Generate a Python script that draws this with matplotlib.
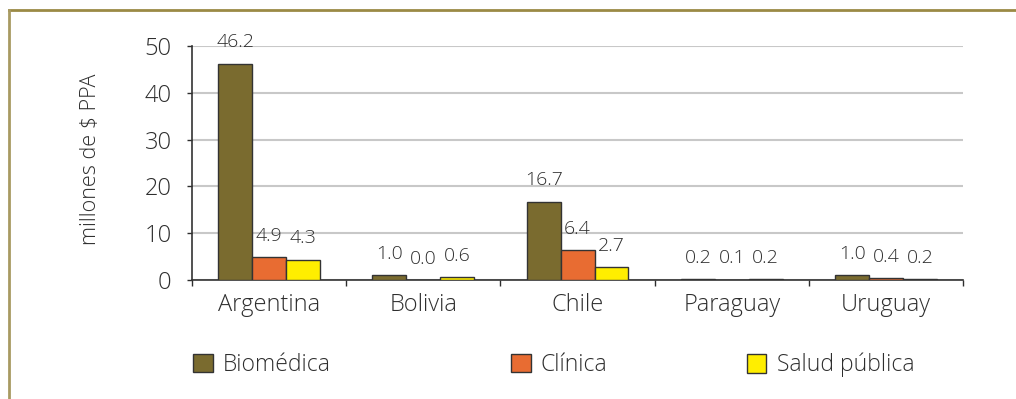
import matplotlib
matplotlib.use('Agg')
import matplotlib.pyplot as plt
from matplotlib.lines import Line2D
from matplotlib.patches import Patch
import numpy as np

plt.rcParams['font.family'] = ['Open Sans', 'DejaVu Sans']
plt.rcParams['font.weight'] = 300

countries = ['Argentina', 'Bolivia', 'Chile', 'Paraguay', 'Uruguay']
biomedica = [46.2, 1.0, 16.7, 0.2, 1.0]
clinica = [4.9, 0.0, 6.4, 0.1, 0.4]
salud_publica = [4.3, 0.6, 2.7, 0.2, 0.2]

series = [('Biomédica', biomedica, '#7a6b2f'),
          ('Clínica', clinica, '#e86c32'),
          ('Salud pública', salud_publica, '#ffee00')]

text_color = '#2e2e2e'
x = np.arange(len(countries))
width = 0.22

fig = plt.figure(figsize=(10.16, 3.99), dpi=100)
ax = fig.add_axes([0.189, 0.2982, 0.759, 0.5865])

for i, (name, vals, color) in enumerate(series):
    rects = ax.bar(x + (i - 1) * width, vals, width, color=color,
                   edgecolor='#333333', linewidth=1.0, label=name, zorder=3)
    ax.bar_label(rects, labels=['%.1f' % v for v in vals], padding=9,
                 fontsize=14, color=text_color)

ax.set_xlim(-0.5, len(countries) - 0.5)
ax.set_ylim(0, 50)
ax.set_yticks(range(0, 51, 10))
ax.tick_params(axis='y', labelsize=17, colors=text_color, length=3.6,
               width=1, direction='out', pad=11)
ax.set_xticks(np.arange(len(countries) + 1) - 0.5)
ax.set_xticklabels([])
ax.tick_params(axis='x', length=4.5, width=1, color=text_color)
ax.set_xticks(x, minor=True)
ax.set_xticklabels(countries, minor=True)
ax.tick_params(axis='x', which='minor', length=0, labelsize=17,
               labelcolor=text_color, pad=9)

ax.grid(axis='y', color='#c8c8c8', linewidth=1.5, zorder=0)
for side in ['top', 'right']:
    ax.spines[side].set_visible(False)
for side in ['left', 'bottom']:
    ax.spines[side].set_color('#333333')
    ax.spines[side].set_linewidth(1.2)

fig.text(0.089, 0.60, 'millones de $ PPA', rotation=90, ha='center',
         va='center', fontsize=15.5, color=text_color)

# one legend entry per series, laid out along the bottom
legend_x = [0.181, 0.494, 0.726]
for (name, vals, color), lx in zip(series, legend_x):
    handle = Patch(facecolor=color, edgecolor='#333333', linewidth=1.0)
    fig.legend([handle], [name], loc='center left', bbox_to_anchor=(lx, 0.085),
               frameon=False, fontsize=16.5, handlelength=0.85, handleheight=0.85,
               handletextpad=0.45, borderaxespad=0, labelcolor=text_color)

# frame lines along the top and left edge
fig.add_artist(Line2D([0.009, 1.0], [0.975, 0.975], color='#9b8a45',
                      linewidth=2.0, transform=fig.transFigure))
fig.add_artist(Line2D([0.009, 0.009], [0.0, 0.975], color='#a89a62',
                      linewidth=2.0, transform=fig.transFigure))

plt.savefig('out.png', dpi=100)
